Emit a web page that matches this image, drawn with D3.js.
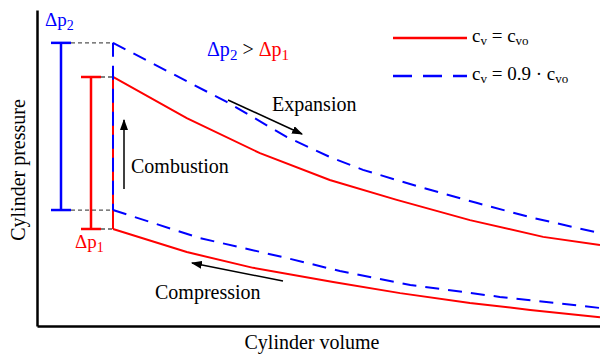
<!DOCTYPE html>
<html>
<head>
<meta charset="utf-8">
<script src="https://cdn.jsdelivr.net/npm/d3@7"></script>
<style>
  body { margin: 0; background: #fff; }
  #chart text { font-family: "Liberation Serif", "Times New Roman", Times, "DejaVu Serif", serif; }
</style>
</head>
<body>
<div id="chart"></div>
<script>
// p-V diagram, two heat capacities (c_v = c_vo and c_v = 0.9 c_vo)
// volume and pressure are in arbitrary units 0..100

var redExpV = [13.5, 26.6, 39.6, 52.0, 63.9, 76.9, 89.9, 100];
var redExpP = [78.8, 65.8, 54.7, 46.2, 39.9, 33.5, 28.2, 25.6];

var blueExpV = [13.5, 33.7, 44.4, 52.0, 57.9, 68.0, 78.2, 88.1, 100];
var blueExpP = [89.6, 70.9, 59.8, 53.5, 49.4, 44.0, 38.9, 34.2, 29.4];

var redCompV = [13.5, 26.6, 38.4, 52.6, 64.5, 76.9, 87.6, 100];
var redCompP = [30.7, 23.4, 18.4, 13.9, 10.4, 7.3, 5.1, 2.8];

var blueCompV = [13.5, 29.0, 44.4, 53.8, 66.3, 82.2, 100];
var blueCompP = [36.7, 27.8, 21.5, 17.4, 13.0, 9.2, 5.7];

var margin = {top: 10, right: 0, bottom: 28, left: 37};
var width = 600 - margin.left - margin.right,
    height = 354 - margin.top - margin.bottom;

var svg = d3.select("#chart").append("svg")
    .attr("width", 600)
    .attr("height", 354)
    .append("g")
    .attr("transform", "translate(" + margin.left + "," + margin.top + ")");

var x = d3.scaleLinear().domain([0, 100]).range([0, width]);
var y = d3.scaleLinear().domain([0, 100]).range([height, 0]);

var red = "#ff0000", blue = "#0000ff";
var dash = "14,9";

svg.append("defs").append("marker")
    .attr("id", "arrow")
    .attr("viewBox", "0 0 10 10")
    .attr("refX", 9).attr("refY", 5)
    .attr("markerWidth", 11).attr("markerHeight", 8)
    .attr("markerUnits", "userSpaceOnUse")
    .attr("orient", "auto")
    .attr("preserveAspectRatio", "none")
    .append("path")
    .attr("d", "M0,0 L10,5 L0,10 z")
    .attr("fill", "#000");

function pts(vs, ps) {
    return vs.map(function(v, i) { return [v, ps[i]]; });
}

var line = d3.line()
    .x(function(d) { return x(d[0]); })
    .y(function(d) { return y(d[1]); });

// axes (no ticks)
svg.append("g")
    .attr("transform", "translate(0," + height + ")")
    .call(d3.axisBottom(x).ticks(0).tickSizeOuter(0))
    .select(".domain").attr("stroke-width", 2.5);

svg.append("g")
    .call(d3.axisLeft(y).ticks(0).tickSizeOuter(0))
    .select(".domain").attr("stroke-width", 2.5);

// red cycle (solid)
svg.append("path").datum(pts(redExpV, redExpP))
    .attr("d", line).attr("fill", "none").attr("stroke", red).attr("stroke-width", 2);
svg.append("path").datum(pts(redCompV, redCompP))
    .attr("d", line).attr("fill", "none").attr("stroke", red).attr("stroke-width", 2);
svg.append("line")
    .attr("x1", x(redExpV[0])).attr("x2", x(redExpV[0]))
    .attr("y1", y(redCompP[0])).attr("y2", y(redExpP[0]))
    .attr("stroke", red).attr("stroke-width", 2);

// blue cycle (dashed)
svg.append("path").datum(pts(blueExpV, blueExpP))
    .attr("d", line).attr("fill", "none").attr("stroke", blue).attr("stroke-width", 2)
    .attr("stroke-dasharray", dash);
svg.append("path").datum(pts(blueCompV, blueCompP))
    .attr("d", line).attr("fill", "none").attr("stroke", blue).attr("stroke-width", 2)
    .attr("stroke-dasharray", dash);
svg.append("line")
    .attr("x1", x(blueExpV[0])).attr("x2", x(blueExpV[0]))
    .attr("y1", y(blueExpP[0])).attr("y2", y(blueCompP[0]))
    .attr("stroke", blue).attr("stroke-width", 2)
    .attr("stroke-dasharray", dash);

// delta p bars
function deltaBar(cx, top, bottom, color) {
    var x0 = x(redExpV[0]);
    [top, bottom].forEach(function(p) {
        svg.append("line")
            .attr("x1", cx + 10).attr("x2", x0)
            .attr("y1", y(p)).attr("y2", y(p))
            .attr("stroke", "#555").attr("stroke-width", 1.3)
            .attr("stroke-dasharray", "4,3");
        svg.append("line")
            .attr("x1", cx - 10).attr("x2", cx + 10)
            .attr("y1", y(p)).attr("y2", y(p))
            .attr("stroke", color).attr("stroke-width", 2.5);
    });
    svg.append("line")
        .attr("x1", cx).attr("x2", cx)
        .attr("y1", y(top)).attr("y2", y(bottom))
        .attr("stroke", color).attr("stroke-width", 2.5);
}
deltaBar(61 - margin.left, blueExpP[0], blueCompP[0], blue);
deltaBar(91 - margin.left, redExpP[0], redCompP[0], red);

function deltaLabel(px, py, sub, color) {
    var t = svg.append("text")
        .attr("x", px - margin.left).attr("y", py - margin.top)
        .attr("fill", color)
        .style("font-size", "19px");
    t.append("tspan").text("Δp");
    t.append("tspan").attr("dy", 4).style("font-size", "14px").text(sub);
}
deltaLabel(45, 26, "2", blue);
deltaLabel(75, 248, "1", red);

// Δp2 > Δp1
var cmp = svg.append("text")
    .attr("x", 207 - margin.left).attr("y", 56 - margin.top)
    .style("font-size", "20px");
cmp.append("tspan").attr("fill", blue).text("Δp");
cmp.append("tspan").attr("fill", blue).attr("dy", 4).style("font-size", "15px").text("2");
cmp.append("tspan").attr("fill", "#000").attr("dy", -4).text(" > ");
cmp.append("tspan").attr("fill", red).text("Δp");
cmp.append("tspan").attr("fill", red).attr("dy", 4).style("font-size", "15px").text("1");

// process arrows and labels
function arrow(x1, y1, x2, y2) {
    svg.append("line")
        .attr("x1", x1 - margin.left).attr("y1", y1 - margin.top)
        .attr("x2", x2 - margin.left).attr("y2", y2 - margin.top)
        .attr("stroke", "#000").attr("stroke-width", 1.5)
        .attr("marker-end", "url(#arrow)");
}
arrow(124, 189, 124, 120);
arrow(228, 100, 302, 134);
arrow(283, 281, 192, 263);

function label(px, py, txt) {
    svg.append("text")
        .attr("x", px - margin.left).attr("y", py - margin.top)
        .style("font-size", "20px")
        .attr("fill", "#000")
        .text(txt);
}
label(131, 173, "Combustion");
label(272, 111, "Expansion");
label(155, 299, "Compression");

// legend
var lg = svg.append("g").attr("transform", "translate(" + (393 - margin.left) + "," + (38 - margin.top) + ")");
lg.append("line").attr("x1", 0).attr("x2", 74).attr("y1", 0).attr("y2", 0)
    .attr("stroke", red).attr("stroke-width", 2.5);
lg.append("line").attr("x1", 0).attr("x2", 74).attr("y1", 38).attr("y2", 38)
    .attr("stroke", blue).attr("stroke-width", 2.5).attr("stroke-dasharray", "19,11");

var l1 = lg.append("text").attr("x", 79).attr("y", 4).style("font-size", "19px");
l1.append("tspan").text("c");
l1.append("tspan").attr("dy", 3).style("font-size", "13px").text("v");
l1.append("tspan").attr("dy", -3).text(" = c");
l1.append("tspan").attr("dy", 3).style("font-size", "13px").text("vo");

var l2 = lg.append("text").attr("x", 79).attr("y", 42).style("font-size", "19px");
l2.append("tspan").text("c");
l2.append("tspan").attr("dy", 3).style("font-size", "13px").text("v");
l2.append("tspan").attr("dy", -3).text(" = 0.9 · c");
l2.append("tspan").attr("dy", 3).style("font-size", "13px").text("vo");

// axis titles
svg.append("text")
    .attr("text-anchor", "middle")
    .style("font-size", "20px")
    .attr("transform", "translate(" + (312 - margin.left) + "," + (349 - margin.top) + ")")
    .text("Cylinder volume");

svg.append("text")
    .attr("text-anchor", "middle")
    .style("font-size", "20px")
    .attr("transform", "translate(" + (25 - margin.left) + "," + (170 - margin.top) + ")rotate(-90)")
    .text("Cylinder pressure");
</script>
</body>
</html>
